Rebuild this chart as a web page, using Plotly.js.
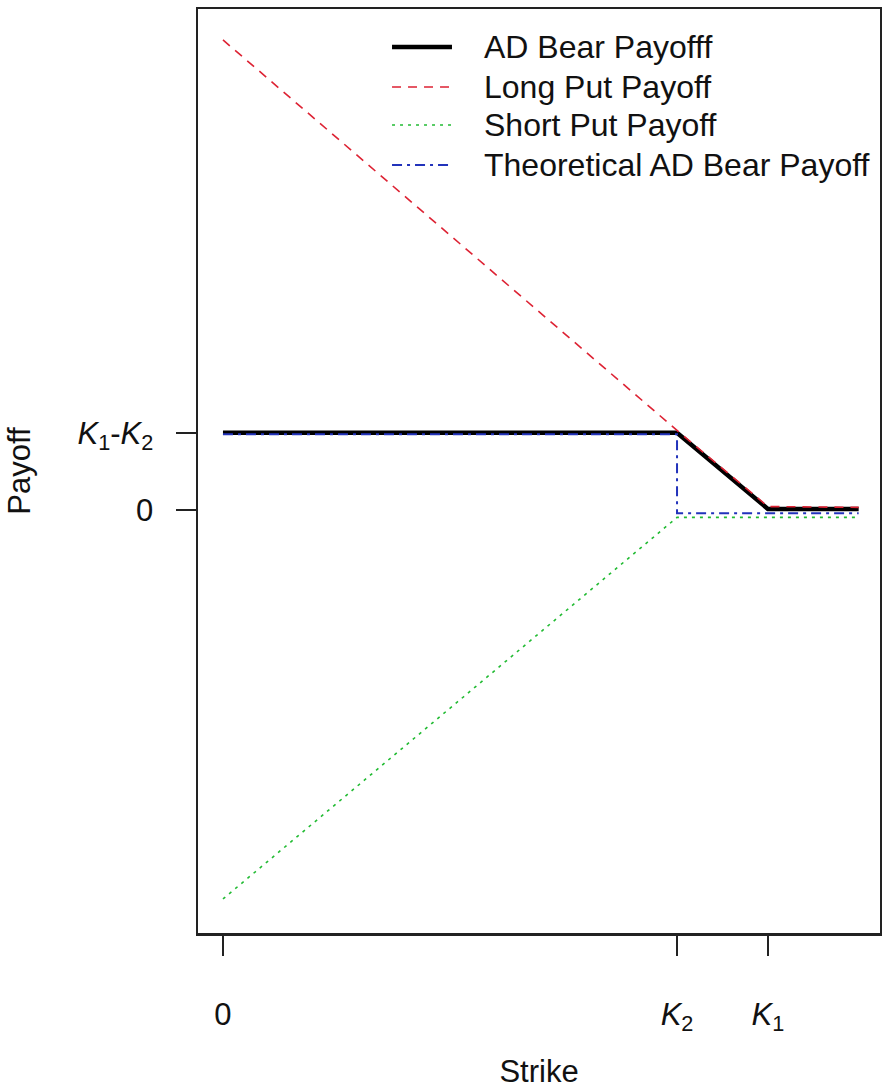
<!DOCTYPE html>
<html>
<head>
<meta charset="utf-8">
<script src="https://cdn.plot.ly/plotly-3.0.1.min.js"></script>
<style>html,body{margin:0;padding:0;background:#fff;}#chart{width:882px;height:1089px;}</style>
</head>
<body>
<div id="chart"></div>
<script>
// Strike grid (K2 = 100, K1 = 120)
var strike = [0, 100, 120, 140];
var adBearPayoff = [20, 20, 0.3, 0.3];
var longPutPayoff = [121.6, 20.6, 0.9, 0.7];
var shortPutStrike = [0, 100, 140];
var shortPutPayoff = [-100.6, -1.9, -1.9];
var theoStrike = [0, 100, 100, 140];
var theoPayoff = [19.6, 19.6, -0.8, -0.8];

var xTickVals = [0, 100, 120];
var xTickText = ['0', '<i>K</i><sub>2</sub>', '<i>K</i><sub>1</sub>'];
var yTickVals = [20, 0];
var yTickText = ['<i>K</i><sub>1</sub>-<i>K</i><sub>2</sub>', '0'];

var seriesNames = ['AD Bear Payofff', 'Long Put Payoff', 'Short Put Payoff', 'Theoretical AD Bear Payoff'];
var seriesColors = ['#000000', '#dd2233', '#22bb33', '#2233bb'];
var seriesWidths = [4.5, 1.6, 1.6, 2];
var seriesDash = ['solid', '9px,7px', '3px,5px', '10px,5px,3px,5px'];

var font = {family: 'Liberation Sans, Arial, sans-serif', size: 31, color: '#111'};
var legendFont = {family: 'Liberation Sans, Arial, sans-serif', size: 32, color: '#111'};

var xs = [strike, strike, shortPutStrike, theoStrike];
var ys = [adBearPayoff, longPutPayoff, shortPutPayoff, theoPayoff];

var traces = seriesNames.map(function (nm, i) {
  return {x: xs[i], y: ys[i], name: nm, mode: 'lines', showlegend: false,
          line: {color: seriesColors[i], width: seriesWidths[i], dash: seriesDash[i]}};
});

// Manual legend (no box), R style
var legendRowsY = [0.9589, 0.9156, 0.8745, 0.8312];
var shapes = [], annotations = [];
seriesNames.forEach(function (nm, i) {
  shapes.push({type: 'line', xref: 'paper', yref: 'paper',
               x0: 0.2845, x1: 0.3724, y0: legendRowsY[i], y1: legendRowsY[i],
               line: {color: seriesColors[i], width: seriesWidths[i], dash: seriesDash[i]}});
  annotations.push({xref: 'paper', yref: 'paper', x: 0.4164, y: legendRowsY[i],
                    xanchor: 'left', yanchor: 'middle', text: nm, showarrow: false,
                    font: legendFont});
});

var layout = {
  width: 882, height: 1089,
  margin: {l: 198, r: 2, t: 9, b: 156},
  paper_bgcolor: '#fff', plot_bgcolor: '#fff',
  font: font,
  showlegend: false,
  shapes: shapes,
  annotations: annotations,
  xaxis: {range: [-5.5, 144.7], tickvals: xTickVals, ticktext: xTickText,
          ticks: 'outside', ticklen: 20, tickwidth: 2, tickcolor: '#222',
          showgrid: false, zeroline: false, showline: true, mirror: true,
          linecolor: '#222', linewidth: 2.5, ticklabelstandoff: 32,
          title: {text: 'Strike', font: font, standoff: 36}},
  yaxis: {range: [-109.4, 129.6], tickvals: yTickVals, ticktext: yTickText,
          ticks: 'outside', ticklen: 20, tickwidth: 2, tickcolor: '#222',
          showgrid: false, zeroline: false, showline: true, mirror: true,
          linecolor: '#222', linewidth: 2.5, ticklabelstandoff: 16,
          title: {text: 'Payoff', font: font, standoff: 38}}
};

Plotly.newPlot('chart', traces, layout, {displayModeBar: false, staticPlot: true});
</script>
</body>
</html>
